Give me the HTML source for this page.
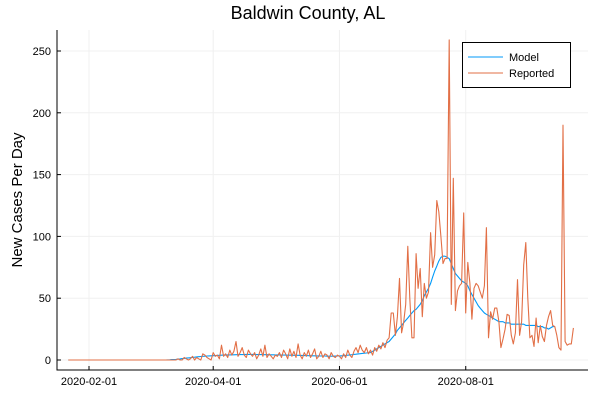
<!DOCTYPE html>
<html><head><meta charset="utf-8"><style>
body{margin:0;background:#fff}
svg{display:block;font-family:"Liberation Sans",sans-serif}
</style></head><body>
<svg id="c" width="600" height="400">
<text x="308" y="19" text-anchor="middle" font-size="18">Baldwin County, AL</text>
<text transform="translate(22,200) rotate(-90)" text-anchor="middle" font-size="15">New Cases Per Day</text>
</svg>
<script>
const startDate = "2020-01-22";
const xTickDays = [10, 70, 131, 192];
const xTickLabels = ["2020-02-01", "2020-04-01", "2020-06-01", "2020-08-01"];
const yTicks = [0, 50, 100, 150, 200, 250];
const model = [
0,0,0,0,0,0,0,0,0,0,0,0,0,0,0,0,0,0,0,0,0,0,0,0,0,0,0,0,0,0,0,0,0,0,0,0,0,0,0,0,0,0,0,0,0,0,0,0,
0.1,0.2,0.3,0.4,0.5,0.7,0.9,1.1,1.3,1.5,1.7,1.9,2.1,2.3,2.5,2.7,2.8,3.0,3.1,3.2,3.3,3.4,
3.5,3.6,3.7,3.8,3.9,4.0,4.0,4.1,4.1,4.2,4.2,4.3,4.3,4.4,4.4,4.4,4.5,4.5,4.5,4.5,
4.5,4.4,4.4,4.4,4.3,4.3,4.3,4.2,4.2,4.2,4.1,4.1,4.1,4.0,4.0,4.0,3.9,3.9,3.9,3.8,
3.8,3.8,3.7,3.7,3.6,3.6,3.5,3.5,3.4,3.4,3.3,3.3,3.2,3.2,3.2,3.1,3.1,3.1,3.1,3.2,3.2,
3.3,3.4,3.5,3.7,3.9,4.1,4.3,4.5,4.7,4.9,5.1,5.3,5.5,5.7,5.9,
6,7,8,9,10,11,12,13,14,15,
17,19,21,24,26,28,30,
32,34,36,38,40,41,43,45,
48,52,55,58,62,
67,72,76,80,83,
84,84,83,82,
78,74,70,68,66,64,63,62,60,
56,53,50,47,44,42,40,
38,37,36,35,34,33,32,31,
31,31,30,30,30,29,29,29,29,29,
29,29,28,28,28,28,28,28,27,27,27,26,26,25,26,27,27];
const reported = [
0,0,0,0,0,0,0,0,0,0,0,0,0,0,0,0,0,0,0,0,0,0,0,0,0,0,0,0,0,0,0,0,0,0,0,0,0,0,0,0,0,0,0,0,0,0,0,0,0,0,0,0,0,
1,0,0,2,1,0,1,3,0,2,1,0,5,4,2,1,0,
6,3,4,1,12,3,5,2,8,4,7,15,3,6,10,4,2,8,5,3,6,1,4,9,3,12,2,5,3,1,4,
3,6,2,8,5,1,9,3,7,2,13,4,1,6,3,8,2,5,9,1,3,7,2,5,4,1,6,3,2,4,
3,1,5,2,8,4,2,7,10,6,12,8,6,10,5,8,4,10,7,12,9,14,10,16,18,
38,38,20,35,66,22,30,45,92,50,18,18,86,58,74,35,62,50,55,103,75,85,129,120,100,78,82,82,259,
45,147,40,56,60,62,119,38,79,
62,33,58,62,60,55,50,60,107,18,39,33,42,42,31,10,17,25,37,36,20,13,22,65,20,31,77,95,50,18,
20,11,34,14,28,19,15,28,35,40,28,27,20,10,8,190,15,12,13,13,26];

const NS = "http://www.w3.org/2000/svg";
const svg = document.getElementById('c');
const L = 57, R = 588, T = 30, B = 370;
const xs = d => 68.3 + 2.07 * d;
const ys = v => 360 - 1.236 * v;
function mk(tag, attrs, parent) {
  const e = document.createElementNS(NS, tag);
  for (const k in attrs) e.setAttribute(k, attrs[k]);
  (parent || svg).appendChild(e);
  return e;
}
const grid = mk('g', {});


xTickDays.forEach((d, i) => {
  const gl = mk('line', {x1: xs(d), x2: xs(d), y1: T, y2: B, stroke: '#f0f0f0', 'stroke-width': 1}, grid);
  
  
  const tk = mk('line', {x1: xs(d), x2: xs(d), y1: B, y2: B - 4, stroke: '#000'});
  
  
  const t = mk('text', {x: xs(d), y: B + 15, 'text-anchor': 'middle', 'font-size': 11});
  t.textContent = xTickLabels[i];
  
  
});
yTicks.forEach(v => {
  const gl = mk('line', {x1: L, x2: R, y1: ys(v), y2: ys(v), stroke: '#f0f0f0', 'stroke-width': 1}, grid);
  
  
  const tk = mk('line', {x1: L, x2: L + 4, y1: ys(v), y2: ys(v), stroke: '#000'});
  
  
  const t = mk('text', {x: L - 6, y: ys(v) + 4, 'text-anchor': 'end', 'font-size': 11});
  t.textContent = v;
  
  
});
const ax = mk('path', {d: `M${L},${T}V${B}H${R}`, fill: 'none', stroke: '#000', 'stroke-width': 1});


function line(arr, color, name) {
  const p = mk('polyline', {points: arr.map((v, i) => xs(i).toFixed(1) + ',' + ys(v).toFixed(1)).join(' '), fill: 'none', stroke: color, 'stroke-width': 1.1, 'stroke-linejoin': 'round'});
  
  
}
line(model, '#009af9', 'model-line');
line(reported, '#e26f46', 'reported-line');
const lg = mk('g', {});


mk('rect', {x: 462.5, y: 42.5, width: 108, height: 45, fill: '#fff', stroke: '#000'}, lg);
[['Model', '#009af9', 57], ['Reported', '#e26f46', 73]].forEach(([n, c, y]) => {
  const e = mk('g', {}, lg);
  
  
  mk('line', {x1: 468, x2: 503, y1: y, y2: y, stroke: c, 'stroke-width': 1.1}, e);
  const t = mk('text', {x: 509, y: y + 4, 'font-size': 11}, e);
  t.textContent = n;
});
</script>
</body></html>
